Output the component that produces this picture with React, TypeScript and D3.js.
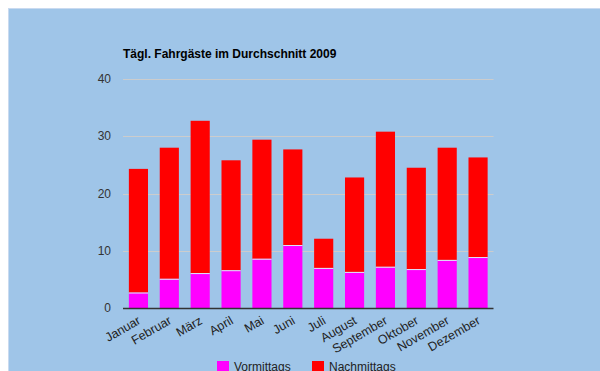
import React from "react";
import * as d3 from "d3";

const months = ["Januar","Februar","März","April","Mai","Juni","Juli","August","September","Oktober","November","Dezember"];
const vormittags = [2.7, 5.1, 6.1, 6.6, 8.6, 11.0, 7.0, 6.3, 7.2, 6.8, 8.4, 8.9];
const nachmittags = [21.6, 22.9, 26.6, 19.2, 20.8, 16.7, 5.1, 16.5, 23.6, 17.7, 19.6, 17.4];
const yTicks = [0, 10, 20, 30, 40];
const seriesNames = ["Vormittags", "Nachmittags"];
const seriesColors = ["#ff00ff", "#ff0000"];
const title = "Tägl. Fahrgäste im Durchschnitt 2009";

export default function App() {
  const W = 600, H = 371;
  const x = d3.scaleBand<string>().domain(months).range([123, 493.5]).paddingInner(0.38).paddingOuter(0.19);
  const y = d3.scaleLinear().domain([0, 40]).range([308, 79]);
  const rows = months.map((m, i) => ({ m, v: vormittags[i], n: nachmittags[i] }));
  const stack = d3.stack<any>().keys(["v", "n"])(rows);
  const font = "Liberation Sans, Arial, sans-serif";
  return (
    <svg width={W} height={H} style={{ position: "absolute", left: 0, top: 0 }} fontFamily={font}>
      <rect x={8.5} y={8.5} width={700} height={500} fill="#9fc5e8" stroke="#c9daf0" strokeWidth={1} />
      <text x={123} y={57.5} fontSize={12} fontWeight="bold" fill="#000">{title}</text>
      {yTicks.map((t) => (
        <g key={t}>
          {t > 0 && <line x1={123} x2={493.5} y1={Math.round(y(t)) + 0.5} y2={Math.round(y(t)) + 0.5} stroke="#cccccc" strokeWidth={1} />}
          <text x={111} y={y(t)} dy="0.35em" fontSize={12} textAnchor="end" fill="#333">{t}</text>
        </g>
      ))}
      {stack.map((s, si) => (
        <g key={si}>
          {s.map((d, i) => (
            <rect key={i} x={x(months[i])} width={x.bandwidth()} y={y(d[1])} height={y(d[0]) - y(d[1])}
              fill={seriesColors[si]} />
          ))}
        </g>
      ))}
      {stack[0].map((d, i) => (
        <line key={i} x1={x(months[i])} x2={(x(months[i]) as number) + x.bandwidth()} y1={y(d[1]) + 0.5} y2={y(d[1]) + 0.5} stroke="#dde8f5" strokeWidth={1} />
      ))}
      <line x1={123} x2={493.5} y1={308.5} y2={308.5} stroke="#333" strokeWidth={1.5} />
      {months.map((m) => {
        const cx = (x(m) as number) + x.bandwidth() / 2;
        return (
          <text key={m} transform={`translate(${cx + 3},${323}) rotate(-30)`} textAnchor="end" fontSize={12.5} fill="#222">{m}</text>
        );
      })}
      <rect x={217} y={361} width={12} height={12} fill={seriesColors[0]} />
      <text x={234} y={371} fontSize={12} fill="#222">{seriesNames[0]}</text>
      <rect x={312} y={361} width={12} height={12} fill={seriesColors[1]} />
      <text x={329} y={371} fontSize={12} fill="#222">{seriesNames[1]}</text>
    </svg>
  );
}
